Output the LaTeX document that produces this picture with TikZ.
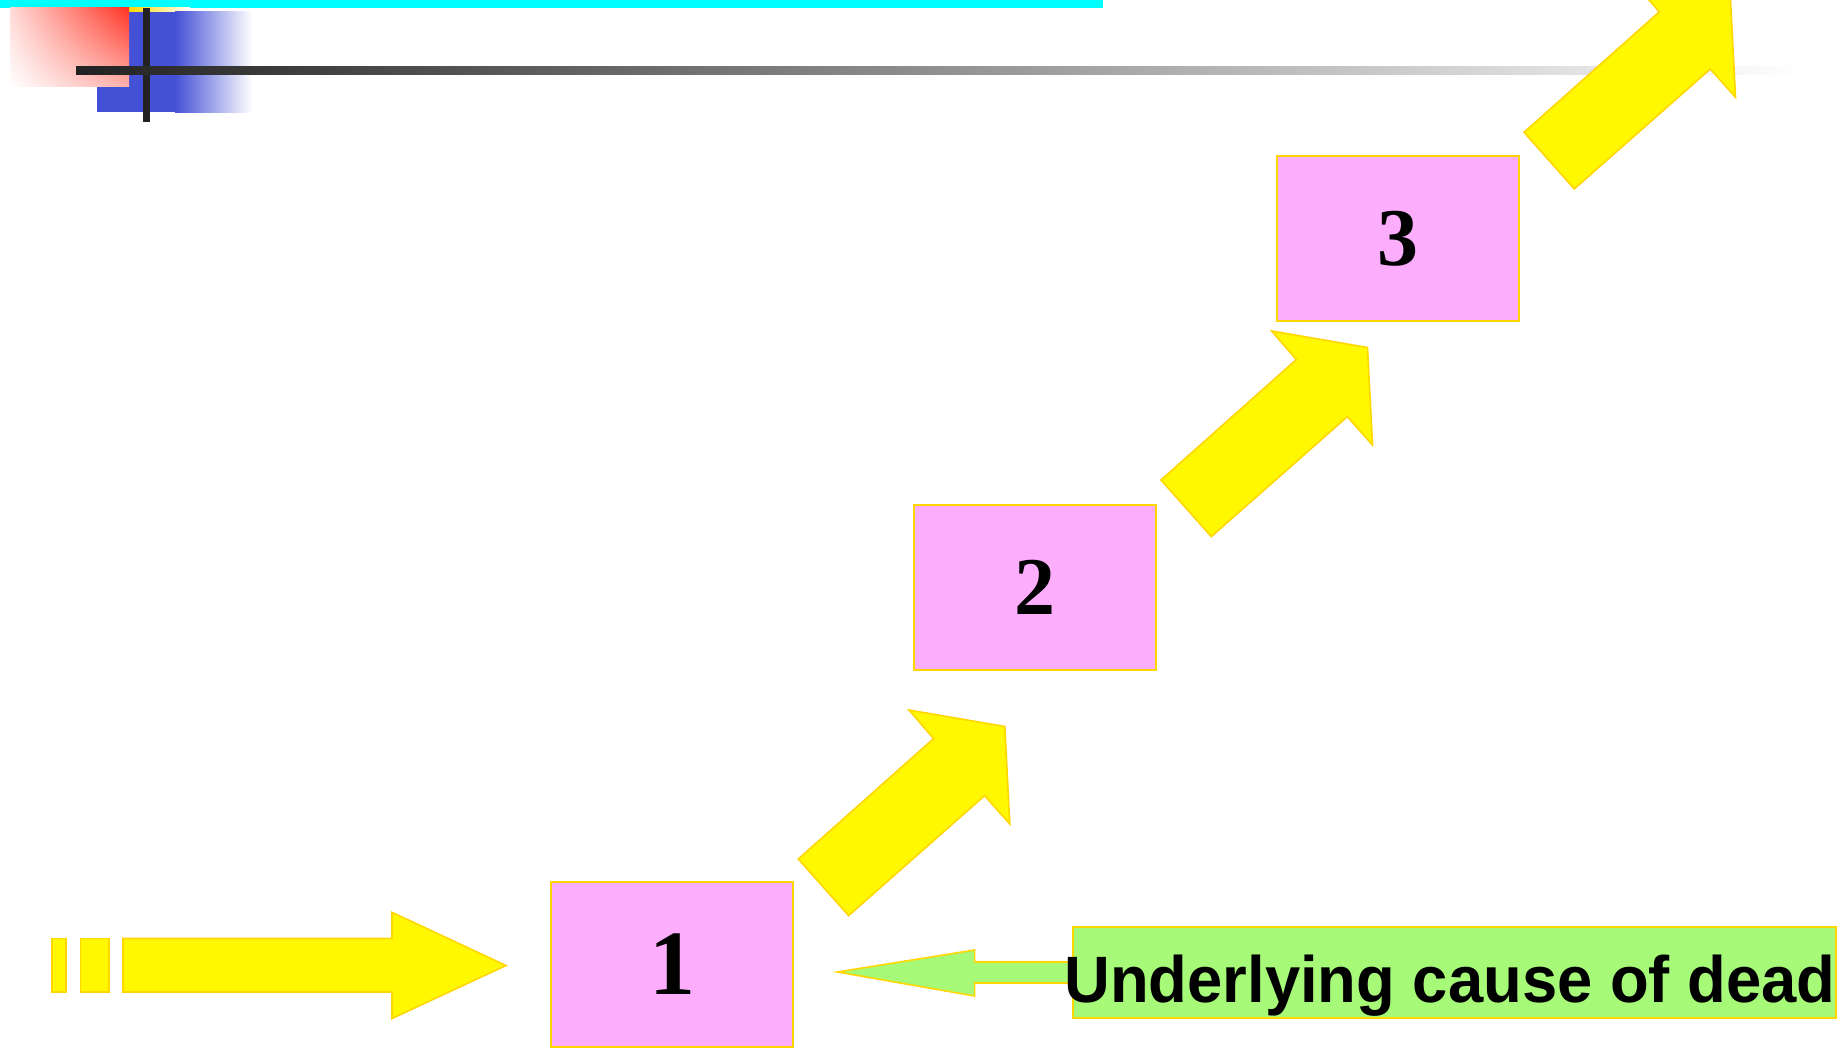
\documentclass[tikz,border=0pt]{standalone}
\usepackage{fontspec}
\usetikzlibrary{shadings}
\newfontfamily\labelfont{Liberation Sans}
\newfontfamily\numfont{Liberation Serif}
\definecolor{pinkfill}{RGB}{252,174,252}
\definecolor{greenfill}{RGB}{166,250,120}
\definecolor{yellowfill}{RGB}{255,248,0}
\definecolor{goldline}{RGB}{255,214,0}
\definecolor{decoblue}{RGB}{68,80,214}
\definecolor{decored}{RGB}{255,52,36}
\definecolor{darkbar}{RGB}{34,34,34}
\definecolor{cyanbar}{RGB}{0,255,255}
\tikzset{
  pinkbox/.style={draw=goldline, line width=1pt, fill=pinkfill, minimum width=121pt, minimum height=82.5pt, inner sep=0pt, font=\numfont\bfseries},
  greenbox/.style={draw=goldline, line width=1pt, fill=greenfill, minimum width=381.5pt, minimum height=45.5pt, inner sep=0pt},
  yarrow/.style={draw=goldline, line width=0.8pt, fill=yellowfill, line join=miter},
  garrow/.style={draw=goldline, line width=0.8pt, fill=greenfill, line join=miter},
  diagarrow/.pic={
    \path[yarrow] (0,0) -- (135.3,-120.4) -- (110.7,-149) -- (206.5,-132.5)
      -- (211.5,-35) -- (186.3,-63.3) -- (50.3,56.6) -- cycle;
  }
}
\begin{document}
\begin{tikzpicture}[x=0.5pt,y=-0.5pt]
\useasboundingbox (0,0) rectangle (1843,1048);
\clip (0,0) rectangle (1843,1048);
\fill[white] (0,0) rectangle (1843,1048);

% top-left decoration
\fill[cyanbar] (0,0) rectangle (1103,8);
\shade[left color=goldline, right color=white] (129,8) rectangle (190,12);
\fill[decoblue] (97,12) rectangle (176,112);
\shade[left color=decoblue, right color=white] (175,12) rectangle (252,113);
\shade[upper right=decored, lower left=white, upper left=decored!18!white, lower right=decored!38!white] (10,8) rectangle (129,87);
\fill[darkbar] (143,8) rectangle (150,122);
\shade[left color=darkbar, middle color={rgb,255:red,184;green,184;blue,184}, right color=white] (76,67) rectangle (1800,75);

% horizontal yellow arrow with tail blocks
\path[yarrow] (51.8,938.5) rectangle (66,992);
\path[yarrow] (80.4,938.5) rectangle (109,992);
\path[yarrow] (123,938.5) -- (392,938.5) -- (392,912.3) -- (506,965.5) -- (392,1018.5) -- (392,992) -- (123,992) -- cycle;

% boxes
\node[pinkbox] (b1) at (672,964.5) {\raisebox{-1.5pt}{\fontsize{46}{46}\selectfont 1}};
\node[pinkbox] (b2) at (1034.5,587.5) {\raisebox{-1.5pt}{\fontsize{41}{41}\selectfont 2}};
\node[pinkbox] (b3) at (1398,239) {\raisebox{-1.5pt}{\fontsize{41}{41}\selectfont 3}};

% diagonal arrows
\pic at (798.3,859) {diagarrow};
\pic at (1161,480) {diagarrow};
\pic at (1524,132.3) {diagarrow};

% green arrow and label
\path[garrow] (837.5,972) -- (974.6,950) -- (974.6,962) -- (1085,962) -- (1085,983) -- (974.6,983) -- (974.6,996) -- cycle;
\node[greenbox] (cause) at (1454.5,972.5) {};
\node[anchor=base west, inner sep=0pt, xscale=0.966, font=\labelfont\bfseries\fontsize{32.8}{36}\selectfont] (causetext) at (1064,1002) {Underlying cause of dead};
\end{tikzpicture}
\end{document}
